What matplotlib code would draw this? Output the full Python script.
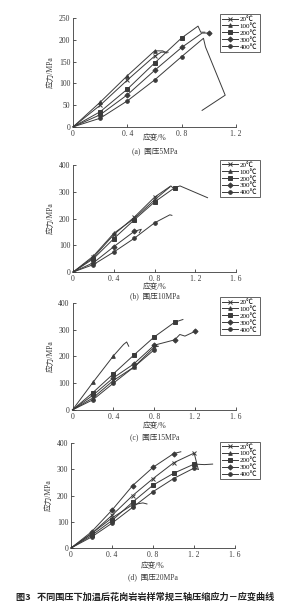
import matplotlib
matplotlib.use("Agg")
import matplotlib.pyplot as plt

plt.rcParams['font.family'] = ['Liberation Serif', 'Noto Sans CJK SC']

labels = ['20℃', '100℃', '200℃', '300℃', '400℃']
markers = ['x', '^', 's', 'D', 'o']

# panel a - confining pressure 5 MPa
a_x = [
    [0, 0.2, 0.4, 0.6, 0.65, 0.70],
    [0, 0.2, 0.4, 0.6, 0.66, 0.69],
    [0, 0.2, 0.4, 0.6, 0.8, 0.92, 0.94, 0.97],
    [0, 0.2, 0.4, 0.6, 0.8, 0.95, 1.0],
    [0, 0.2, 0.4, 0.6, 0.8, 0.96, 0.975, 1.12, 0.95],
]
a_y = [
    [0, 50, 108, 163, 172, 172],
    [0, 57, 118, 175, 175, 170],
    [0, 35, 87, 147, 205, 232, 218, 218],
    [0, 28, 74, 130, 183, 216, 216],
    [0, 20, 60, 108, 162, 204, 184, 73, 38],
]
# marker points only on round strain values
a_mk = [[1, 2, 3], [1, 2, 3], [1, 2, 3, 4], [1, 2, 3, 4, 6], [1, 2, 3, 4]]

# panel b - 10 MPa
b_x = [
    [0, 0.2, 0.4, 0.6, 0.8, 0.96, 0.98],
    [0, 0.2, 0.4, 0.6, 0.8, 0.95],
    [0, 0.2, 0.4, 0.6, 0.8, 1.0, 1.05, 1.32],
    [0, 0.2, 0.4, 0.6, 0.67, 0.65],
    [0, 0.2, 0.4, 0.6, 0.8, 0.95, 0.97],
]
b_y = [
    [0, 55, 140, 205, 280, 322, 315],
    [0, 60, 145, 200, 270, 318],
    [0, 50, 125, 195, 262, 316, 322, 278],
    [0, 35, 95, 152, 160, 147],
    [0, 28, 75, 126, 184, 214, 212],
]
b_mk = [[1, 2, 3, 4], [1, 2, 3, 4], [1, 2, 3, 4, 5], [1, 2, 3], [1, 2, 3, 4]]

# panel c - 15 MPa
c_x = [
    [0, 0.2, 0.4, 0.6, 0.8, 0.84],
    [0, 0.2, 0.4, 0.5, 0.53, 0.55],
    [0, 0.2, 0.4, 0.6, 0.8, 1.0, 1.08],
    [0, 0.2, 0.4, 0.6, 0.8, 1.0, 1.05, 1.1, 1.2],
    [0, 0.2, 0.4, 0.6, 0.8],
]
c_y = [
    [0, 45, 110, 160, 235, 238],
    [0, 103, 202, 245, 254, 238],
    [0, 65, 135, 205, 273, 328, 338],
    [0, 55, 120, 172, 242, 262, 282, 276, 294],
    [0, 38, 100, 160, 225],
]
c_mk = [[1, 2, 3, 4], [1, 2], [1, 2, 3, 4, 5], [1, 2, 3, 4, 5, 8], [1, 2, 3, 4]]

# panel d - 20 MPa
d_x = [
    [0, 0.2, 0.4, 0.6, 0.8, 1.0, 1.2, 1.24],
    [0, 0.2, 0.4, 0.6, 0.7, 0.74],
    [0, 0.2, 0.4, 0.6, 0.8, 1.0, 1.2, 1.3, 1.38],
    [0, 0.2, 0.4, 0.6, 0.8, 1.0, 1.07],
    [0, 0.2, 0.4, 0.6, 0.8, 1.0, 1.2, 1.24],
]
d_y = [
    [0, 55, 125, 200, 265, 325, 362, 300],
    [0, 55, 115, 165, 172, 168],
    [0, 48, 105, 175, 240, 285, 320, 318, 320],
    [0, 62, 145, 238, 308, 360, 367],
    [0, 42, 95, 155, 215, 265, 305, 300],
]
d_mk = [[1, 2, 3, 4, 5, 6], [1, 2, 3], [1, 2, 3, 4, 5, 6], [1, 2, 3, 4, 5], [1, 2, 3, 4, 5, 6]]

panels = [
    (a_x, a_y, a_mk, 1.2, 250, [0, 0.4, 0.8, 1.2], [0, 50, 100, 150, 200, 250], '(a)  围压5MPa'),
    (b_x, b_y, b_mk, 1.6, 400, [0, 0.4, 0.8, 1.2, 1.6], [0, 100, 200, 300, 400], '(b)  围压10MPa'),
    (c_x, c_y, c_mk, 1.6, 400, [0, 0.4, 0.8, 1.2, 1.6], [0, 100, 200, 300, 400], '(c)  围压15MPa'),
    (d_x, d_y, d_mk, 1.6, 400, [0, 0.4, 0.8, 1.2, 1.6], [0, 100, 200, 300, 400], '(d)  围压20MPa'),
]

# axes boxes in figure fraction: left, bottom, width, height
boxes = [
    [0.252, 0.792, 0.562, 0.178],
    [0.252, 0.554, 0.562, 0.1754],
    [0.250, 0.328, 0.564, 0.1754],
    [0.245, 0.1016, 0.566, 0.172],
]
legend_tops = [0.977, 0.738, 0.513, 0.276]
# pixel rows (from top) of x label and panel title
xlabel_rows = [138, 287, 426, 566]
title_rows = [151, 296, 437, 577]

fig = plt.figure(figsize=(2.9, 6.1), dpi=100)
col = '#3a3a3a'

for k, (xs, ys, mks, xmax, ymax, xt, yt, title) in enumerate(panels):
    ax = fig.add_axes(boxes[k])
    ax.patch.set_alpha(0)
    for i in range(5):
        ax.plot(xs[i], ys[i], color=col, lw=0.7, marker=markers[i],
                markevery=mks[i], ms=2.6 if markers[i] != 'x' else 3.2,
                mew=0.7, mfc=col, mec=col, label=labels[i], clip_on=False)
    ax.set_xlim(0, xmax)
    ax.set_ylim(0, ymax)
    ax.set_xticks(xt)
    ax.set_xticklabels(['0' if v == 0 else ('%.1f' % v).replace('.', '. ') for v in xt])
    ax.set_yticks(yt)
    ax.tick_params(direction='in', length=2.5, width=0.6, labelsize=5.5, colors=col, pad=2)
    for s in ['top', 'right']:
        ax.spines[s].set_visible(False)
    for s in ['left', 'bottom']:
        ax.spines[s].set_linewidth(0.6)
        ax.spines[s].set_color(col)
    ax.set_ylabel('应力/MPa', fontsize=5.5, color=col, labelpad=3)
    cx = boxes[k][0] + boxes[k][2] * 0.5
    fig.text(cx, 1 - xlabel_rows[k] / 610, '应变/%', ha='center', va='center',
             fontsize=5.5, color=col)
    fig.text(cx, 1 - title_rows[k] / 610, title, ha='center', va='center',
             fontsize=5.5, color=col)
    leg = fig.legend(loc='upper right', bbox_to_anchor=(0.895, legend_tops[k]),
                     handles=ax.get_lines(), fontsize=5, frameon=True, fancybox=False,
                     handlelength=2.2, handletextpad=0.3, borderpad=0.3,
                     labelspacing=0.15, borderaxespad=0)
    leg.get_frame().set_edgecolor(col)
    leg.get_frame().set_linewidth(0.7)

fig.text(0.5, 0.021, '图3   不同围压下加温后花岗岩岩样常规三轴压缩应力－应变曲线',
         ha='center', va='center', fontsize=6.6, fontweight='bold',
         family=['Noto Sans CJK SC', 'DejaVu Sans'], color='#222222')

fig.savefig('out.png', dpi=100)
